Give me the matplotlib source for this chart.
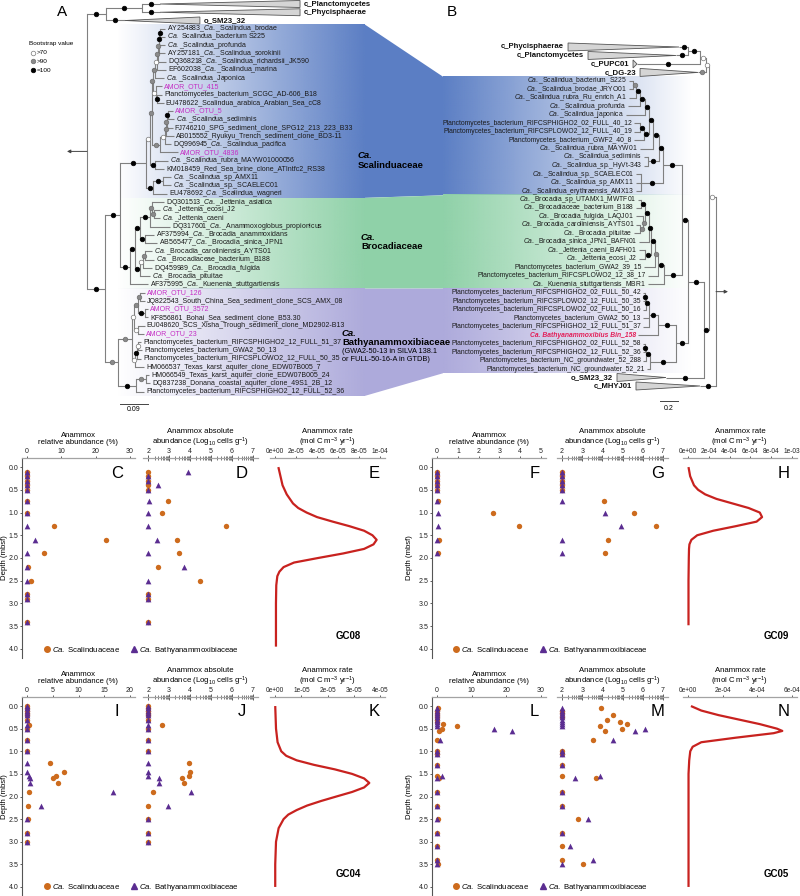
import numpy as np
import matplotlib.pyplot as plt
from matplotlib.colors import to_rgb
from matplotlib.lines import Line2D
from matplotlib.patches import Polygon

plt.rcParams['font.family'] = ['Liberation Sans', 'DejaVu Sans']
plt.rcParams['mathtext.fontset'] = 'custom'
plt.rcParams['mathtext.rm'] = 'Liberation Sans'
plt.rcParams['mathtext.it'] = 'Liberation Sans:italic'
plt.rcParams['mathtext.bf'] = 'Liberation Sans:bold'

# ---------------------------------------------------------------- tree A (16S)
# branch lengths in substitutions/site, bootstrap support as node label
S_a5 = "(AY254883_Ca._Scalindua_brodae:0.016,Ca. Scalindua_bacterium S225:0.016)100:0.003"
S_a4 = "(" + S_a5 + ",Ca._Scalindua_profunda:0.019)100:0.003"
S_a3 = "(" + S_a4 + ",AY257181_Ca._Scalindua_sorokinii:0.022)90:0.003"
S_a2 = "(" + S_a3 + ",DQ368218_Ca._Scalindua_richardsii_JK590:0.026)90:0.003"
S_a1 = "(" + S_a2 + ",EF602038_Ca._Scalindua_marina:0.029)70:0.006"
S_a = "(" + S_a1 + ",Ca._Scalindua_Japonica:0.029)90:0.006"
S_b1 = "(Planctomycetes_bacterium_SCGC_AD-606_B18:0.016,EU478622_Scalindua_arabica_Arabian_Sea_cC8:0.022)100:0.003"
S_b = "(AMOR_OTU_415:0.019," + S_b1 + ")70:0.010"
S_upper = "(" + S_a + "," + S_b + ")90:0.003"
S_m4 = "(AMOR_OTU_5:0.016,Ca._Scalindua_sediminis:0.019)100:0.003"
S_m3 = "(" + S_m4 + ",FJ746210_SPG_sediment_clone_SPG12_213_223_B33:0.019)90:0.003"
S_m2 = "(" + S_m3 + ",AB015552_Ryukyu_Trench_sediment_clone_BD3-11:0.026)90:0.003"
S_m1 = "(" + S_m2 + ",DQ996945_Ca._Scalindua_pacifica:0.019)70:0.016"
S_mid = "(" + S_m1 + ",AMOR_OTU_4836:0.058)90:0.026"
S_um = "(" + S_upper + "," + S_mid + ")90:0.006"
S_rubra = "(Ca._Scalindua_rubra_MAYW01000056:0.042,KM018459_Red_Sea_brine_clone_ATIntfc2_RS38:0.029)100:0.016"
S_main = "(" + S_um + "," + S_rubra + ")70:0.013"
S_amx1 = "(Ca._Scalindua_sp_AMX11:0.026,Ca._Scalindua_sp._SCAELEC01:0.026)100:0.032"
S_amx = "(" + S_amx1 + ",EU478692_Ca._Scalindua_wagneri:0.045)100:0.022"
SCAL_A = "(" + S_main + "," + S_amx + ")100:0.084"

J_ec = "(Ca._Jettenia_ecosi_J2:0.022,Ca._Jettenia_caeni:0.022)90:0.006"
J_ae = "(DQ301513_Ca._Jettenia_asiatica:0.039," + J_ec + ")90:0.006"
B_J = "(" + J_ae + ",DQ317601_Ca._Anammoxoglobus_propionicus:0.064)100:0.032"
B_Br = "(AF375994_Ca._Brocadia_anammoxidans:0.029,AB565477_Ca._Brocadia_sinica_JPN1:0.039)100:0.016"
B_ja = "(" + B_J + "," + B_Br + ")100:0.016"
B_b2 = "(Ca._Brocadia_caroliniensis_AYTS01:0.022,Ca._Brocadiaceae_bacterium_B188:0.029)90:0.006"
B_b1 = "(" + B_b2 + ",DQ459989_Ca._Brocadia_fulgida:0.029)70:0.010"
B_bro = "(" + B_b1 + ",Ca._Brocadia_pituitae:0.032)100:0.016"
B_main = "(" + B_ja + "," + B_bro + ")100:0.016"
BROC_A = "(" + B_main + ",AF375995_Ca._Kuenenia_stuttgartiensis:0.058)100:0.032"

Bt_o11 = "(AMOR_OTU_126:0.016,JQ822543_South_China_Sea_sediment_clone_SCS_AMX_08:0.016)90:0.006"
Bt_o12 = "(AMOR_OTU_3572:0.010,KF856861_Bohai_Sea_sediment_clone_B53.30:0.010)100:0.022"
Bt_o1 = "(" + Bt_o11 + "," + Bt_o12 + ")90:0.013"
Bt_o2 = "(EU048620_SCS_Xisha_Trough_sediment_clone_MD2902-B13:0.022,AMOR_OTU_23:0.019)70:0.013"
Bt_otu = "(" + Bt_o1 + "," + Bt_o2 + ")70:0.006"
Bt_pb2 = "(Planctomycetes_bacterium_RIFCSPHIGHO2_12_FULL_51_37:0.010,Planctomycetes_bacterium_GWA2_50_13:0.013)70:0.003"
Bt_pb1 = "(" + Bt_pb2 + ",Planctomycetes_bacterium_RIFCSPLOWO2_12_FULL_50_35:0.013)100:0.006"
Bt_pb = "(" + Bt_pb1 + ",HM066537_Texas_karst_aquifer_clone_EDW07B005_7:0.029)70:0.010"
Bt_main = "(" + Bt_otu + "," + Bt_pb + ")90:0.045"
Bt_t1 = "(HM066549_Texas_karst_aquifer_clone_EDW07B005_24:0.010,DQ837238_Donana_coastal_aquifer_clone_49S1_2B_12:0.013)90:0.032"
Bt_tex = "(" + Bt_t1 + ",Planctomycetes_bacterium_RIFCSPHIGHO2_12_FULL_52_36:0.026)100:0.058"
BATHY_A = "(" + Bt_main + "," + Bt_tex + ")90:0.042"

OG_A = "((c_Planctomycetes:0.058,c_Phycisphaerae:0.058)100:0.116,o_SM23_32:0.061)100:0.061"
SB_A = "(" + SCAL_A + "," + BROC_A + ")100:0.048"
ANA_A = "(" + SB_A + "," + BATHY_A + ")100:0.058"
TREE_A = "(" + OG_A + "," + ANA_A + ");"
COLLAPSED_A = {"c_Planctomycetes": (0.45, 100), "c_Phycisphaerae": (0.45, 100),
               "o_SM23_32": (0.241, 100)}

# ---------------------------------------------------------------- tree B (genomes)
PP_B = "(c_Phycisphaerae:0.1,c_Planctomycetes:0.133)100:0.133"
PPB3 = "(" + PP_B + ",c_PUPC01:0.7)70:0.067"
OG_B = "(" + PPB3 + ",c_DG-23:0.089)70:0.033"

Sc_m6 = "(Ca._Scalindua_bacterium_S225:0.044,Ca._Scalindua_brodae_JRYO01:0.044)90:0.033"
Sc_m5 = "(" + Sc_m6 + ",Ca._Scalindua_rubra_Ru_enrich_A1:0.078)100:0.044"
Sc_m4 = "(" + Sc_m5 + ",Ca._Scalindua_profunda:0.133)100:0.056"
Sc_m3 = "(" + Sc_m4 + ",Ca._Scalindua_japonica:0.211)100:0.044"
Sc_pb1 = "(Planctomycetes_bacterium_RIFCSPHIGHO2_02_FULL_40_12:0.067,Planctomycetes_bacterium_RIFCSPLOWO2_12_FULL_40_19:0.067)100:0.044"
Sc_pb = "(" + Sc_pb1 + ",Planctomycetes_bacterium_GWF2_40_8:0.111)100:0.056"
Sc_m2 = "(" + Sc_m3 + "," + Sc_pb + ")100:0.044"
Sc_m1 = "(" + Sc_m2 + ",Ca._Scalindua_rubra_MAYW01:0.144)100:0.067"
Sc_sed = "(Ca._Scalindua_sediminis:0.044,Ca._Scalindua_sp._HyVt-343:0.044)100:0.122"
Sc_main = "(" + Sc_m1 + "," + Sc_sed + ")100:0.044"
Sc_amx = "(Ca._Scalindua_sp._SCAELEC01:0.056,Ca._Scalindua_sp_AMX11:0.056,Ca._Scalindua_erythraensis_AMX13:0.056)100:0.244"
SCAL_B = "(" + Sc_main + "," + Sc_amx + ")100:0.211"

Br_e = "(Ca._Brocadia_sp_UTAMX1_MWTF01:0.033,Ca._Brocadiaceae_bacterium_B188:0.056)100:0.044"
Br_g = "(Ca._Brocadia_caroliniensis_AYTS01:0.044,Ca._Brocadia_pituitae:0.067)90:0.033"
Br_f = "(Ca._Brocadia_fulgida_LAQJ01:0.078," + Br_g + ")90:0.022"
Br_d = "(" + Br_e + "," + Br_f + ")100:0.044"
Br_c = "(" + Br_d + ",Ca._Brocadia_sinica_JPN1_BAFN01:0.111)100:0.022"
Br_j = "(Ca._Jettenia_caeni_BAFH01:0.067,Ca._Jettenia_ecosi_J2:0.067)100:0.067"
Br_b = "(" + Br_c + "," + Br_j + ")100:0.044"
Br_a = "(" + Br_b + ",Planctomycetes_bacterium_GWA2_39_15:0.122)90:0.033"
Br_m = "(" + Br_a + ",Planctomycetes_bacterium_RIFCSPLOWO2_12_38_17:0.111)100:0.067"
BROC_B = "(" + Br_m + ",Ca._Kuenenia_stuttgartiensis_MBR1:0.178)100:0.2"

Bb_a3 = "(Planctomycetes_bacterium_RIFCSPHIGHO2_02_FULL_50_42:0.022,Planctomycetes_bacterium_RIFCSPLOWO2_12_FULL_50_35:0.022)100:0.011"
Bb_a2 = "(" + Bb_a3 + ",Planctomycetes_bacterium_RIFCSPLOWO2_02_FULL_50_16:0.033)100:0.033"
Bb_a1 = ("(" + Bb_a2 + ",Planctomycetes_bacterium_GWA2_50_13:0.067,"
         "Planctomycetes_bacterium_RIFCSPHIGHO2_12_FULL_51_37:0.067)100:0.1")
Bb_a = "(" + Bb_a1 + ",Ca. Bathyanammoxibius Bin_158:0.222)100:0.2"
Bb_b2 = "(Planctomycetes_bacterium_RIFCSPHIGHO2_02_FULL_52_58:0.022,Planctomycetes_bacterium_RIFCSPHIGHO2_12_FULL_52_36:0.022)100:0.011"
Bb_b1 = "(" + Bb_b2 + ",Planctomycetes_bacterium_NC_groundwater_52_288:0.033)100:0.044"
Bb_b = "(" + Bb_b1 + ",Planctomycetes_bacterium_NC_groundwater_52_21:0.033)100:0.289"
BATHY_B = "(" + Bb_a + "," + Bb_b + ")100:0.133"

SB_B = "(" + SCAL_B + "," + BROC_B + ")100:0.067"
ANA_B = "(" + SB_B + "," + BATHY_B + ")100:0.178"
REST_B = "(" + ANA_B + ",o_SM23_32:0.422)100:0.056"
UP_B = "(" + OG_B + "," + REST_B + ")70:0.078"
TREE_B = "(" + UP_B + ",c_MHYJ01:0.178);"
COLLAPSED_B = {"c_Phycisphaerae": (1.233, 100), "c_Planctomycetes": (0.978, 100),
               "c_PUPC01": (0.044, 100), "c_DG-23": (0.644, 90),
               "o_SM23_32": (0.544, 100), "c_MHYJ01": (0.711, 100)}

CLADES_A = [("AY254883_Ca._Scalindua_brodae", "EU478692_Ca._Scalindua_wagneri"),
            ("DQ301513_Ca._Jettenia_asiatica", "AF375995_Ca._Kuenenia_stuttgartiensis"),
            ("AMOR_OTU_126", "Planctomycetes_bacterium_RIFCSPHIGHO2_12_FULL_52_36")]
CLADES_B = [("Ca._Scalindua_bacterium_S225", "Ca._Scalindua_erythraensis_AMX13"),
            ("Ca._Brocadia_sp_UTAMX1_MWTF01", "Ca._Kuenenia_stuttgartiensis_MBR1"),
            ("Planctomycetes_bacterium_RIFCSPHIGHO2_02_FULL_50_42",
             "Planctomycetes_bacterium_NC_groundwater_52_21")]
CLADE_COLORS = ['#5b7ec4', '#8fd1a8', '#adaadb']

# ---------------------------------------------------------------- depth profiles
GC08_DEPTH = [0.1, 0.2, 0.3, 0.4, 0.5, 0.75, 1.0, 1.3, 1.6, 1.9, 2.2, 2.5, 2.8, 2.9, 3.4]
GC08_REL_SCAL = [0, 0, 0, 0, 0, 0.1, 0.1, 7.7, 23.0, 4.8, 0.2, 1.0, 0, 0, 0]
GC08_REL_BATHY = [0, 0, 0, 0, 0, 0, 0, 0, 2.4, 0, 0, 0, 0, 0, 0]
GC08_ABS_SCAL = [2.0, 2.0, 2.0, 2.0, 2.0, 2.94, 2.66, 5.71, 3.37, 3.48, 2.48, 4.47, 2.0, 2.0, 2.0]
GC08_ABS_BATHY = [3.89, 2.0, 2.0, 2.45, 2.0, 2.05, 2.0, 2.0, 2.4, 2.0, 3.73, 2.0, 2.0, 2.0, 2.0]
GC08_RATE_DEPTH = [0.0, 0.2, 0.4, 0.6, 0.8, 0.9, 1.0, 1.1, 1.2, 1.3, 1.4, 1.5, 1.6, 1.7, 1.8,
                   1.9, 2.0, 2.1, 2.2, 2.3, 2.4, 2.6, 3.0, 3.5, 3.95]
GC08_RATE = [0.3e-5, 0.5e-5, 0.7e-5, 1.1e-5, 1.7e-5, 2.2e-5, 3.0e-5, 4.0e-5, 5.5e-5, 7.1e-5,
             8.5e-5, 9.3e-5, 9.7e-5, 9.4e-5, 8.5e-5, 6.5e-5, 4.1e-5, 1.8e-5, 0.8e-5, 0.4e-5,
             0.2e-5, 0.1e-5, 0.07e-5, 0.07e-5, 0.07e-5]

GC09_DEPTH = [0.1, 0.2, 0.3, 0.4, 0.5, 0.75, 1.0, 1.3, 1.6, 1.9]
GC09_REL_SCAL = [0, 0, 0, 0, 0, 0.05, 2.7, 3.95, 0.1, 0.05]
GC09_REL_BATHY = [0, 0, 0, 0, 0, 0, 0.05, 0.03, 0, 0]
GC09_ABS_SCAL = [2, 2, 2, 2, 2, 4.06, 5.57, 6.68, 4.27, 4.14]
GC09_ABS_BATHY = [2, 2, 2, 2, 2, 2, 4.12, 4.91, 2, 2]
GC09_RATE_DEPTH = [0.0, 0.2, 0.4, 0.5, 0.6, 0.7, 0.8, 0.9, 1.0, 1.1, 1.2, 1.3, 1.4, 1.5, 1.6,
                   1.7, 1.8, 2.0, 2.5, 3.0, 3.48]
GC09_RATE = [0.03e-4, 0.19e-4, 0.56e-4, 0.96e-4, 1.64e-4, 2.73e-4, 4.28e-4, 5.83e-4, 6.91e-4,
             7.13e-4, 6.6e-4, 4.59e-4, 2.42e-4, 0.87e-4, 0.31e-4, 0.12e-4, 0.08e-4, 0.06e-4,
             0.03e-4, 0.03e-4, 0.03e-4]

GC04_DEPTH = [0.0, 0.05, 0.1, 0.15, 0.2, 0.3, 0.42, 0.5, 0.75, 1.0, 1.25, 1.45, 1.55, 1.6,
              1.7, 1.9, 2.2, 2.5, 2.8, 3.0]
GC04_REL_SCAL = [0, 0, 0, 0, 0, 0, 0.3, 0, 0, 0, 4.5, 7.1, 5.6, 5.0, 6.0, 0.3, 0.1, 0.1, 0, 0]
GC04_REL_BATHY = [0, 0, 0, 0, 0, 0, 0, 0, 0, 0, 0, 0, 0.3, 0.6, 0.5, 16.8, 2.7, 0, 0, 0]
GC04_ABS_SCAL = [2, 2, 2, 2, 2, 2, 2.68, 2, 2, 2, 3.94, 3.98, 3.97, 3.6, 3.73, 2.23, 2, 2, 2, 2]
GC04_ABS_BATHY = [2, 2, 2, 2, 2, 2, 2, 2, 2, 2, 2, 2, 2, 2.52, 2.52, 4.06, 2.94, 2, 2, 2]
GC04_RATE_DEPTH = [0.0, 0.5, 0.8, 1.0, 1.1, 1.2, 1.3, 1.4, 1.5, 1.6, 1.7, 1.8, 1.9, 2.0, 2.1,
                   2.2, 2.3, 2.4, 2.5, 2.7, 3.0, 3.5, 4.0]
GC04_RATE = [0.0, 0.03e-5, 0.09e-5, 0.23e-5, 0.42e-5, 0.82e-5, 1.48e-5, 2.28e-5, 2.94e-5,
             3.4e-5, 3.6e-5, 3.4e-5, 2.94e-5, 2.34e-5, 1.75e-5, 1.22e-5, 0.82e-5, 0.5e-5,
             0.32e-5, 0.13e-5, 0.03e-5, 0.0, 0.0]

GC05_DEPTH = [0.05, 0.1, 0.15, 0.2, 0.25, 0.3, 0.35, 0.4, 0.45, 0.5, 0.55, 0.75, 1.0, 1.05,
              1.3, 1.55, 1.6, 1.9, 2.2, 2.5, 2.8, 3.1, 3.4, 3.5]
GC05_REL_SCAL = [0.1, 0, 0, 0, 0, 0, 0, 1.7, 5.6, 1.25, 0.6, 0, 0, 0, 0, 0, 0.5, 0, 0, 0.1,
                 0, 0, 0, 0.2]
GC05_REL_BATHY = [0, 0, 0, 0, 0, 0, 0, 0, 0, 16.4, 21.6, 0.8, 0, 0, 0, 1.5, 0, 0, 0, 0, 0,
                  0, 0, 0]
GC05_ABS_SCAL = [3.93, 2, 2, 4.52, 2, 4.22, 4.86, 5.2, 3.9, 4.96, 4.14, 3.51, 2, 2, 2, 2,
                 3.66, 2, 2, 2.79, 2, 2, 2, 3.06]
GC05_ABS_BATHY = [2, 2, 2, 2, 2, 2, 2, 2, 2, 6.13, 5.6, 4.5, 2, 2, 2, 3.9, 2.66, 2, 2, 3.27,
                  2, 2.39, 3.51, 2]
GC05_RATE_DEPTH = [0.0, 0.1, 0.2, 0.3, 0.4, 0.5, 0.55, 0.6, 0.7, 0.8, 0.9, 1.0, 1.2, 1.5,
                   2.0, 3.0, 4.0]
GC05_RATE = [0.16e-4, 0.76e-4, 1.75e-4, 2.95e-4, 4.15e-4, 5.14e-4, 5.45e-4, 4.95e-4,
             2.75e-4, 0.76e-4, 0.26e-4, 0.12e-4, 0.06e-4, 0.02e-4, 0.02e-4, 0.02e-4, 0.02e-4]

REL_MAX = {'GC08': 30, 'GC09': 5, 'GC04': 20, 'GC05': 30}
REL_TICKS = {'GC08': [0, 10, 20, 30], 'GC09': [0, 1, 2, 3, 4, 5],
             'GC04': [0, 5, 10, 15, 20], 'GC05': [0, 10, 20, 30]}
RATE_TICKS = {'GC08': [0, 2e-5, 4e-5, 6e-5, 8e-5, 1e-4],
              'GC09': [0, 2e-4, 4e-4, 6e-4, 8e-4, 1e-3],
              'GC04': [0, 1e-5, 2e-5, 3e-5, 4e-5],
              'GC05': [0, 2e-4, 4e-4, 6e-4]}
ABS_TICKS = [2, 3, 4, 5, 6, 7]

ORANGE = '#cd6b1d'
PURPLE = '#5b2d91'
RED = '#c8221f'
W, H = 800, 896

fig = plt.figure(figsize=(8, 8.96), dpi=100)


# ---------------------------------------------------------------- tree helpers
def parse_newick(text):
    text = text.strip().rstrip(';')
    pos = 0

    def read():
        nonlocal pos
        kids = []
        if text[pos] == '(':
            pos += 1
            kids.append(read())
            while text[pos] == ',':
                pos += 1
                kids.append(read())
            pos += 1
        start = pos
        while pos < len(text) and text[pos] not in ':,)':
            pos += 1
        label = text[start:pos]
        length = 0.0
        if pos < len(text) and text[pos] == ':':
            pos += 1
            start = pos
            while pos < len(text) and text[pos] not in ',)':
                pos += 1
            length = float(text[start:pos])
        return {'label': label, 'len': length, 'kids': kids}

    return read()


def place(node, depth, counter, leaves):
    node['x'] = depth + node['len']
    if node['kids']:
        for kid in node['kids']:
            place(kid, node['x'], counter, leaves)
        node['y'] = (node['kids'][0]['y'] + node['kids'][-1]['y']) / 2
    else:
        node['y'] = counter[0]
        leaves[node['label']] = counter[0]
        counter[0] += 1


def support_style(s):
    if s >= 100:
        return 'black', 'black'
    if s >= 90:
        return '#8a8a8a', '#6e6e6e'
    return 'white', '#7a7a7a'


def leaf_text(name):
    if 'Bathyanammoxibius' in name:
        return name, dict(color='#e3205a', fontweight='bold', fontstyle='italic')
    color = '#c42ec4' if name.startswith('AMOR') else '#1a1a1a'
    return name.replace('Ca.', r'$\mathit{Ca.}$'), dict(color=color)


def draw_tree(ax, newick, collapsed, x0, scale, direction, y0, ystep, tri_half, fs, stem):
    root = parse_newick(newick)
    leaves = {}
    place(root, 0.0, [0], leaves)
    X = lambda d: x0 + direction * d * scale
    Y = lambda i: y0 + i * ystep
    lc = '#808080'
    ha = 'left' if direction > 0 else 'right'

    def draw(node, px):
        nx, ny = X(node['x']), Y(node['y'])
        ax.plot([px, nx], [ny, ny], color=lc, lw=0.8, solid_capstyle='butt', zorder=2)
        name = node['label']
        sup = None
        if node['kids']:
            ax.plot([nx, nx], [Y(node['kids'][0]['y']), Y(node['kids'][-1]['y'])],
                    color=lc, lw=0.8, zorder=2)
            for kid in node['kids']:
                draw(kid, nx)
            if name:
                sup = float(name)
        elif name in collapsed:
            tri_len, sup = collapsed[name]
            xe = nx + direction * tri_len * scale
            ax.add_patch(Polygon([(nx, ny), (xe, ny - tri_half), (xe, ny + tri_half)],
                                 closed=True, fc='#d5d5d5', ec='#555555', lw=0.6, zorder=2))
            ax.text(xe + direction * 4, ny, name, ha=ha, va='center', fontsize=5.6,
                    fontweight='bold', color='#111111')
        else:
            txt, kw = leaf_text(name)
            ax.text(nx + direction * 2, ny, txt, ha=ha, va='center', fontsize=fs, **kw)
        if sup is not None:
            fc, ec = support_style(sup)
            ax.plot((px + nx) / 2, ny, 'o', ms=3.3, mfc=fc, mec=ec, mew=0.5, zorder=4)

    rx, ry = X(0), Y(root['y'])
    for kid in root['kids']:
        draw(kid, rx)
    ax.plot([rx, rx], [Y(root['kids'][0]['y']), Y(root['kids'][-1]['y'])], color=lc, lw=0.8)
    ax.annotate('', xy=(rx - direction * stem, ry), xytext=(rx, ry),
                arrowprops=dict(arrowstyle='-|>', color='#444444', lw=0.7,
                                mutation_scale=5, shrinkA=0, shrinkB=0))
    return {k: Y(v) for k, v in leaves.items()}


def band(ax, xl, xr, yt, yb, color, fade_right):
    rgba = np.zeros((1, 256, 4))
    rgba[..., :3] = to_rgb(color)
    ramp = np.linspace(0.0, 1.0, 256)
    rgba[0, :, 3] = ramp[::-1] if fade_right else ramp
    ax.imshow(rgba, extent=(xl, xr, yb, yt), aspect='auto', interpolation='bilinear', zorder=0)


# ---------------------------------------------------------------- trees
ax_t = fig.add_axes([0, 1 - 410 / H, 1, 410 / H])
ax_t.axis('off')

ya = draw_tree(ax_t, TREE_A, COLLAPSED_A, 87, 311, 1, 4, 8.25, 3.5, 5.0, 20)
yb = draw_tree(ax_t, TREE_B, COLLAPSED_B, 716, 90, -1, 47, 8.475, 4.0, 4.9, 12)

for (a0, a1), (b0, b1), col in zip(CLADES_A, CLADES_B, CLADE_COLORS):
    at, ab = ya[a0] - 4.1, ya[a1] + 4.1
    bt, bb = yb[b0] - 4.2, yb[b1] + 4.2
    band(ax_t, 117, 365, at, ab, col, False)
    band(ax_t, 443, 692, bt, bb, col, True)
    ax_t.add_patch(Polygon([(365, at), (443, bt), (443, bb), (365, ab)], closed=True,
                           fc=col, ec='none', zorder=0))

ax_t.text(358, 156, 'Ca.', fontsize=6.8, fontweight='bold', fontstyle='italic', va='center')
ax_t.text(358, 166, 'Scalinduaceae', fontsize=6.8, fontweight='bold', va='center')
ax_t.text(361, 237, 'Ca.', fontsize=6.8, fontweight='bold', fontstyle='italic', va='center')
ax_t.text(361, 246.5, 'Brocadiaceae', fontsize=6.8, fontweight='bold', va='center')
ax_t.text(342, 333, 'Ca.', fontsize=6.8, fontweight='bold', fontstyle='italic', va='center')
ax_t.text(342, 342.5, 'Bathyanammoxibiaceae', fontsize=6.8, fontweight='bold', va='center')
ax_t.text(342, 351.5, '(GWA2-50-13 in SILVA 138.1', fontsize=5.3, va='center')
ax_t.text(342, 359.5, 'or FULL-50-16-A in GTDB)', fontsize=5.3, va='center')

ax_t.text(62, 12, 'A', fontsize=11, ha='center', va='center')
ax_t.text(452, 12, 'B', fontsize=11, ha='center', va='center')

# bootstrap key
ax_t.text(29, 43, 'Bootstrap value', fontsize=4.6, va='center')
for yy, s, lab in [(53, 70, '>70'), (61.5, 90, '>90'), (70, 100, '=100')]:
    fc, ec = support_style(s)
    ax_t.plot(33, yy, 'o', ms=3.3, mfc=fc, mec=ec, mew=0.5)
    ax_t.text(37, yy, lab, fontsize=4.6, va='center')

# scale bars
ax_t.plot([120, 120 + 0.09 * 311], [404, 404], color='#444444', lw=0.7)
ax_t.text(120 + 0.045 * 311, 409, '0.09', fontsize=5, ha='center', va='center')
ax_t.plot([660, 660 + 0.2 * 90], [401, 401], color='#444444', lw=0.7)
ax_t.text(660 + 0.1 * 90, 408, '0.2', fontsize=5, ha='center', va='center')

ax_t.set_xlim(0, W)
ax_t.set_ylim(410, 0)


# ---------------------------------------------------------------- depth panels
def pax(l, r, t, b):
    return fig.add_axes([l / W, 1 - b / H, (r - l) / W, (b - t) / H])


def base_style(ax, left):
    for s in ['bottom', 'right']:
        ax.spines[s].set_visible(False)
    ax.spines['left'].set_visible(left)
    ax.spines['top'].set_color('#a3a3a3')
    ax.spines['top'].set_linewidth(0.9)
    ax.spines['left'].set_color('#555555')
    ax.spines['left'].set_linewidth(0.8)
    ax.xaxis.tick_top()
    ax.xaxis.set_label_position('top')
    ax.tick_params(axis='both', labelsize=5, length=1.6, width=0.6, pad=0.8,
                   colors='#444444', labelcolor='#222222')
    ax.set_ylim(4.2, -0.2)
    ax.patch.set_alpha(0)
    if not left:
        ax.tick_params(axis='y', left=False, labelleft=False)


def core_block(name, spans, top, bottom, depth, rel_s, rel_b, abs_s, abs_b, rd, rv,
               letters, letter_x, name_x, ylab_x, legend_x, legend_y):
    ax1 = pax(spans[0][0], spans[0][1], top, bottom)
    ax2 = pax(spans[1][0], spans[1][1], top, bottom)
    ax3 = pax(spans[2][0], spans[2][1], top, bottom)
    base_style(ax1, True)
    base_style(ax2, False)
    base_style(ax3, False)

    m = REL_MAX[name]
    ax1.scatter(rel_s, depth, s=15, color=ORANGE, marker='o', lw=0, zorder=3, clip_on=False)
    ax1.scatter(rel_b, depth, s=17, color=PURPLE, marker='^', lw=0, zorder=4, clip_on=False)
    ax1.set_xlim(-0.05 * m, 1.05 * m)
    ax1.set_xticks(REL_TICKS[name])
    ax1.set_yticks(np.arange(0, 4.01, 0.5))
    ax1.set_yticklabels([f'{v:.1f}' for v in np.arange(0, 4.01, 0.5)])
    ax1.set_ylabel('Depth (mbsf)', fontsize=5.6)
    ax1.yaxis.set_label_coords(ylab_x, 0.5)
    ax1.set_xlabel('Anammox\nrelative abundance (%)', fontsize=5.6, labelpad=2.5,
                   linespacing=1.05)

    ax2.scatter(abs_s, depth, s=15, color=ORANGE, marker='o', lw=0, zorder=3, clip_on=False)
    ax2.scatter(abs_b, depth, s=17, color=PURPLE, marker='^', lw=0, zorder=4, clip_on=False)
    ax2.set_xlim(1.75, 7.25)
    ax2.set_xticks(ABS_TICKS)
    minors = [d + np.log10(k) for d in range(2, 7) for k in range(2, 10)]
    ax2.set_xticks(minors, minor=True)
    ax2.tick_params(axis='x', which='major', direction='inout', length=4, pad=0.2)
    ax2.tick_params(axis='x', which='minor', direction='inout', length=2.4, width=0.5,
                    colors='#444444')
    ax2.set_xlabel('Anammox absolute\nabundance (Log$_{10}$ cells g$^{-1}$)', fontsize=5.6,
                   labelpad=2.5, linespacing=1.05)

    ax3.plot(rv, rd, color=RED, lw=1.6, solid_capstyle='butt')
    rt = RATE_TICKS[name]
    ax3.set_xlim(-0.05 * rt[-1], 1.05 * rt[-1])
    ax3.set_xticks(rt)
    ax3.set_xticklabels([f'{v:.0e}' for v in rt])
    ax3.tick_params(axis='x', labelsize=4.7)
    ax3.set_xlabel('Anammox rate\n(mol C m$^{-3}$ yr$^{-1}$)', fontsize=5.6, labelpad=2.5,
                   linespacing=1.05)
    ax3.text(name_x, 0.11, name, transform=ax3.transAxes, ha='center', va='center',
             fontsize=7, fontweight='bold')

    for ax, let, lx in zip([ax1, ax2, ax3], letters, letter_x):
        ax.text(lx, 0.925, let, transform=ax.transAxes, ha='center', va='center', fontsize=12)

    handles = [Line2D([], [], marker='o', ls='', color=ORANGE, ms=4),
               Line2D([], [], marker='^', ls='', color=PURPLE, ms=4.3)]
    fig.legend(handles, [r'$\mathit{Ca.}$ Scalinduaceae', r'$\mathit{Ca.}$ Bathyanammoxibiaceae'],
               loc='center left', bbox_to_anchor=(legend_x / W, 1 - legend_y / H), ncol=2,
               frameon=False, fontsize=5.6, handletextpad=0.2, columnspacing=1.2,
               handlelength=1.0, borderaxespad=0, borderpad=0)


LEFT = [(22, 135), (143, 258), (270, 385)]
RIGHT = [(432, 546), (557, 668), (683, 797)]

core_block('GC08', LEFT, 458, 658, GC08_DEPTH, GC08_REL_SCAL, GC08_REL_BATHY,
           GC08_ABS_SCAL, GC08_ABS_BATHY, GC08_RATE_DEPTH, GC08_RATE,
           ['C', 'D', 'E'], [0.84, 0.86, 0.91], 0.68, -0.125, 43, 650)
core_block('GC09', RIGHT, 458, 658, GC09_DEPTH, GC09_REL_SCAL, GC09_REL_BATHY,
           GC09_ABS_SCAL, GC09_ABS_BATHY, GC09_RATE_DEPTH, GC09_RATE,
           ['F', 'G', 'H'], [0.90, 0.91, 0.88], 0.82, -0.17, 452, 650)
core_block('GC04', LEFT, 697, 896, GC04_DEPTH, GC04_REL_SCAL, GC04_REL_BATHY,
           GC04_ABS_SCAL, GC04_ABS_BATHY, GC04_RATE_DEPTH, GC04_RATE,
           ['I', 'J', 'K'], [0.84, 0.86, 0.91], 0.68, -0.125, 43, 887)
core_block('GC05', RIGHT, 697, 896, GC05_DEPTH, GC05_REL_SCAL, GC05_REL_BATHY,
           GC05_ABS_SCAL, GC05_ABS_BATHY, GC05_RATE_DEPTH, GC05_RATE,
           ['L', 'M', 'N'], [0.90, 0.91, 0.88], 0.82, -0.17, 452, 887)

fig.savefig('out.png', dpi=100)
